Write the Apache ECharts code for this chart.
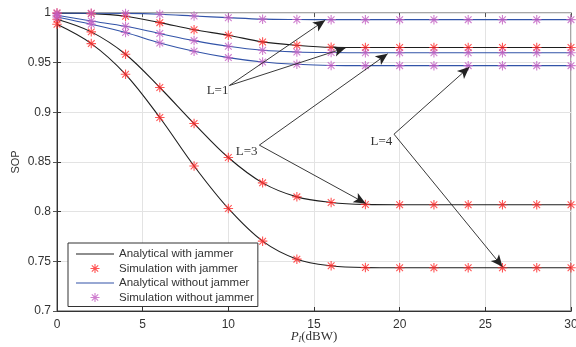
<!DOCTYPE html>
<html>
<head>
<meta charset="utf-8">
<script src="https://cdn.jsdelivr.net/npm/echarts@6/dist/echarts.min.js"></script>
<style>html,body{margin:0;padding:0;background:#fff;}#c{width:576px;height:347px;}</style>
</head>
<body>
<div id="c"></div>
<script>
var xs = [0,2,4,6,8,10,12,14,16,18,20,22,24,26,28,30];
var withL1 = [0.9999,0.9994,0.9967,0.9903,0.9832,0.9776,0.9709,0.9675,0.9655,0.9653,0.9653,0.9653,0.9653,0.9653,0.9653,0.9653];
var withL3 = [0.9937,0.9810,0.9585,0.9250,0.8887,0.8545,0.8290,0.8149,0.8093,0.8073,0.8070,0.8070,0.8070,0.8070,0.8070,0.8070];
var withL4 = [0.9886,0.9692,0.9383,0.8948,0.8460,0.8032,0.7703,0.7522,0.7455,0.7437,0.7435,0.7435,0.7435,0.7435,0.7435,0.7435];
var woL1 = [1.0000,0.9998,0.9996,0.9987,0.9970,0.9953,0.9938,0.9934,0.9933,0.9933,0.9933,0.9933,0.9933,0.9933,0.9933,0.9933];
var woL3 = [0.9977,0.9920,0.9866,0.9793,0.9722,0.9665,0.9625,0.9608,0.9602,0.9600,0.9600,0.9600,0.9600,0.9600,0.9600,0.9600];
var woL4 = [0.9960,0.9886,0.9803,0.9698,0.9615,0.9551,0.9507,0.9484,0.9472,0.9470,0.9470,0.9470,0.9470,0.9470,0.9470,0.9470];

var legendNames = ['Analytical with jammer','Simulation with jammer','Analytical without jammer','Simulation without jammer'];
var annoLabels = [{t:'L=1', x:9.37, y:0.922}, {t:'L=3', x:11.07, y:0.860}, {t:'L=4', x:18.93, y:0.871}];
var annoArrows = [
  [[10.06,0.927],[15.65,0.9927]],
  [[10.06,0.927],[16.85,0.9650]],
  [[11.81,0.867],[19.3,0.9590]],
  [[11.81,0.867],[18.02,0.8083]],
  [[19.67,0.878],[24.07,0.9457]],
  [[19.67,0.878],[26.0,0.7445]]
];

var BLACK = '#1e1e1e', BLUE = '#3253a8', RED = '#ff2b2b', MAG = '#c35fc3';
var STAR = 'path://M0,-10L0,10M-10,0L10,0M-7.07,-7.07L7.07,7.07M-7.07,7.07L7.07,-7.07';
var LINEICON = 'path://M0,0L38,0L38,1.2L0,1.2Z';

function pairs(v){ return xs.map(function(x,i){ return [x, v[i]]; }); }
function lineS(name, v, color){
  return {name:name, type:'line', data:pairs(v), smooth:0.35, symbol:'none', showSymbol:false,
    lineStyle:{color:color, width:1.1}, itemStyle:{color:color}, z:2, silent:true};
}
function starS(name, v, color){
  return {name:name, type:'scatter', data:pairs(v), symbol:STAR, symbolSize:9.5,
    itemStyle:{color:'rgba(0,0,0,0)', borderColor:color, borderWidth:1.1}, z:3, silent:true};
}

var series = [
  lineS(legendNames[0], withL1, BLACK), lineS(legendNames[0], withL3, BLACK), lineS(legendNames[0], withL4, BLACK),
  lineS(legendNames[2], woL1, BLUE), lineS(legendNames[2], woL3, BLUE), lineS(legendNames[2], woL4, BLUE),
  starS(legendNames[1], withL1, RED), starS(legendNames[1], withL3, RED), starS(legendNames[1], withL4, RED),
  starS(legendNames[3], woL1, MAG), starS(legendNames[3], woL3, MAG), starS(legendNames[3], woL4, MAG),
  {type:'line', data:[], silent:true, z:5,
    markLine:{silent:true, symbol:['none','arrow'], symbolSize:[8,12], animation:false,
      lineStyle:{color:'#222', width:0.9, type:'solid'}, label:{show:false},
      data: annoArrows.map(function(a){ return [{coord:a[0]},{coord:a[1]}]; })},
    markPoint:{silent:true, symbol:'circle', symbolSize:0, animation:false,
      label:{show:true, position:'inside', color:'#333', fontFamily:'Liberation Serif', fontSize:13,
        formatter:function(p){ return p.name; }},
      data: annoLabels.map(function(a){ return {name:a.t, coord:[a.x,a.y]}; })}
  }
];

var chart = echarts.init(document.getElementById('c'), null, {renderer:'canvas'});
chart.setOption({
  animation:false,
  backgroundColor:'#fff',
  grid:{left:57, right:5, top:13, bottom:36, containLabel:false, outerBoundsMode:'none',
    show:true, borderColor:'#8a8a8a', borderWidth:1.5, backgroundColor:'#fff'},
  legend:{
    orient:'vertical', left:68, top:243, itemWidth:38, itemHeight:9, itemGap:2.5,
    padding:[5,4,3,8], backgroundColor:'#fff', borderColor:'#333', borderWidth:1,
    textStyle:{fontFamily:'Liberation Sans', fontSize:11.5, color:'#333'},
    data:[
      {name:legendNames[0], icon:LINEICON, itemStyle:{color:BLACK, borderWidth:0}},
      {name:legendNames[1], icon:STAR, itemStyle:{color:'rgba(0,0,0,0)', borderColor:RED, borderWidth:1.1}},
      {name:legendNames[2], icon:LINEICON, itemStyle:{color:BLUE, borderWidth:0}},
      {name:legendNames[3], icon:STAR, itemStyle:{color:'rgba(0,0,0,0)', borderColor:MAG, borderWidth:1.1}}
    ]
  },
  xAxis:[{
    type:'value', min:0, max:30, interval:5,
    axisLine:{show:true, onZero:false, lineStyle:{color:'#333', width:1}},
    axisTick:{show:true, inside:true, length:4, lineStyle:{color:'#333'}},
    axisLabel:{color:'#333', fontFamily:'Liberation Sans', fontSize:12, margin:8},
    splitLine:{show:true, lineStyle:{color:'#e3e3e3', width:1}},
    name:'{i|P}{s|I}{n|(dBW)}', nameLocation:'middle', nameGap:19, nameMoveOverlap:false,
    nameTextStyle:{rich:{
      i:{fontFamily:'Liberation Serif', fontStyle:'italic', fontSize:13, color:'#333'},
      s:{fontFamily:'Liberation Serif', fontStyle:'italic', fontSize:8, color:'#333', verticalAlign:'bottom', padding:[6,0,0,0]},
      n:{fontFamily:'Liberation Serif', fontSize:13, color:'#333'}}}
  },{
    type:'value', min:0, max:30, interval:5, position:'top',
    axisLine:{show:false}, axisTick:{show:true, inside:true, length:4, lineStyle:{color:'#555'}},
    axisLabel:{show:false}, splitLine:{show:false}
  }],
  yAxis:[{
    type:'value', min:0.7, max:1, interval:0.05,
    axisLine:{show:true, onZero:false, lineStyle:{color:'#333', width:1}},
    axisTick:{show:true, inside:true, length:4, lineStyle:{color:'#333'}},
    axisLabel:{color:'#333', fontFamily:'Liberation Sans', fontSize:12, margin:6,
      formatter:function(v){ return String(Math.round(v*100)/100); }},
    splitLine:{show:true, lineStyle:{color:'#e3e3e3', width:1}},
    name:'SOP', nameLocation:'middle', nameGap:36, nameMoveOverlap:false,
    nameTextStyle:{fontFamily:'Liberation Sans', fontSize:11, color:'#333'}
  },{
    type:'value', min:0.7, max:1, interval:0.05, position:'right',
    axisLine:{show:false}, axisTick:{show:true, inside:true, length:4, lineStyle:{color:'#555'}},
    axisLabel:{show:false}, splitLine:{show:false}
  }],
  series:series
});
</script>
</body>
</html>
